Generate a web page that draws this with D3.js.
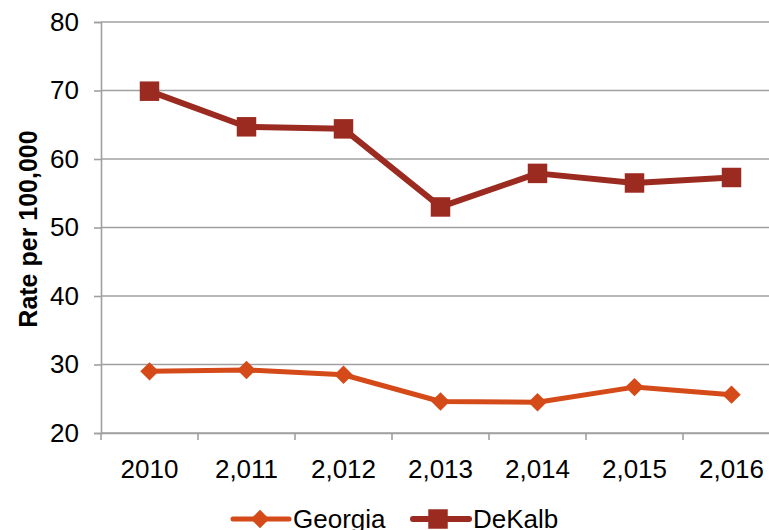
<!DOCTYPE html>
<html>
<head>
<meta charset="utf-8">
<script src="https://cdn.jsdelivr.net/npm/d3@7"></script>
<style>
  body { margin: 0; background: #fff; }
  svg { display: block; font-family: "Liberation Sans", Arial, sans-serif; }
</style>
</head>
<body>
<div id="root"></div>
<script>
const years = ["2010", "2,011", "2,012", "2,013", "2,014", "2,015", "2,016"];
const georgia = [29.0, 29.2, 28.5, 24.6, 24.5, 26.7, 25.6];
const dekalb = [69.9, 64.7, 64.4, 53.0, 57.9, 56.5, 57.3];
const yTicks = [20, 30, 40, 50, 60, 70, 80];

const margin = { top: 22, left: 101 };
const width = 679;
const height = 411;

const svg = d3
  .select("#root")
  .append("svg")
  .attr("width", 769)
  .attr("height", 530);

const g = svg
  .append("g")
  .attr("transform", "translate(" + margin.left + "," + margin.top + ")");

const xBand = d3.scaleBand().domain(years).range([0, width]);
const yScale = d3.scaleLinear().domain([20, 80]).range([height, 0]);

// gridlines
g.selectAll(".grid")
  .data(yTicks)
  .enter()
  .append("line")
  .attr("class", "grid")
  .attr("x1", 0)
  .attr("x2", width)
  .attr("y1", (d) => yScale(d))
  .attr("y2", (d) => yScale(d))
  .attr("stroke", "#a0a0a0")
  .attr("stroke-width", 1.6);

// y axis
const gY = g
  .append("g")
  .call(d3.axisLeft(yScale).tickValues(yTicks).tickSize(7).tickPadding(15));
gY.selectAll("path, line").attr("stroke", "#a0a0a0").attr("stroke-width", 1.6);
gY.selectAll("text")
  .attr("font-size", 26)
  .attr("fill", "#000")
  .attr("font-family", "Liberation Sans, Arial, sans-serif");

// x axis
const gX = g
  .append("g")
  .attr("transform", "translate(0," + height + ")")
  .call(d3.axisBottom(xBand).tickSize(0).tickPadding(27));
gX.select("path").attr("stroke", "#a0a0a0").attr("stroke-width", 1.6);
gX.selectAll("text")
  .attr("font-size", 26)
  .attr("fill", "#000")
  .attr("font-family", "Liberation Sans, Arial, sans-serif");

// category separators
g.selectAll(".xtick")
  .data(d3.range(years.length + 1))
  .enter()
  .append("line")
  .attr("x1", (i) => i * xBand.step())
  .attr("x2", (i) => i * xBand.step())
  .attr("y1", height)
  .attr("y2", height + 7)
  .attr("stroke", "#a0a0a0")
  .attr("stroke-width", 1.6);

// y title
svg
  .append("text")
  .attr("transform", "translate(37,229) rotate(-90)")
  .attr("text-anchor", "middle")
  .attr("font-size", 25)
  .attr("font-weight", "bold")
  .text("Rate per 100,000");

const cx = (_, i) => xBand(years[i]) + xBand.bandwidth() / 2;
const line = d3
  .line()
  .x(cx)
  .y((d) => yScale(d));

const series = [
  { name: "Georgia", values: georgia, color: "#d44a19", width: 5, rot: 45, size: 170 },
  { name: "DeKalb", values: dekalb, color: "#9b2b20", width: 6, rot: 0, size: 380 },
];

const marker = d3.symbol().type(d3.symbolSquare);

series.forEach((s) => {
  g.append("path")
    .datum(s.values)
    .attr("d", line)
    .attr("fill", "none")
    .attr("stroke", s.color)
    .attr("stroke-width", s.width)
    .attr("stroke-linejoin", "round");
  g.selectAll(".m-" + s.name)
    .data(s.values)
    .enter()
    .append("path")
    .attr("d", marker.size(s.size)())
    .attr("transform", (d, i) => "translate(" + cx(d, i) + "," + yScale(d) + ") rotate(" + s.rot + ")")
    .attr("fill", s.color);
});

// legend
const legendX = [233, 413];
series.forEach((s, i) => {
  const lg = svg.append("g").attr("transform", "translate(" + legendX[i] + ",519)");
  lg.append("line")
    .attr("x1", 0)
    .attr("x2", 56)
    .attr("stroke", s.color)
    .attr("stroke-width", s.width)
    .attr("stroke-linecap", "round");
  lg.append("path")
    .attr("d", marker.size(s.size)())
    .attr("transform", "translate(" + (i === 0 ? 27 : 25) + ",0) rotate(" + s.rot + ")")
    .attr("fill", s.color);
  lg.append("text")
    .attr("x", 60)
    .attr("y", 9)
    .attr("font-size", 26)
    .text(s.name);
});
</script>
</body>
</html>
